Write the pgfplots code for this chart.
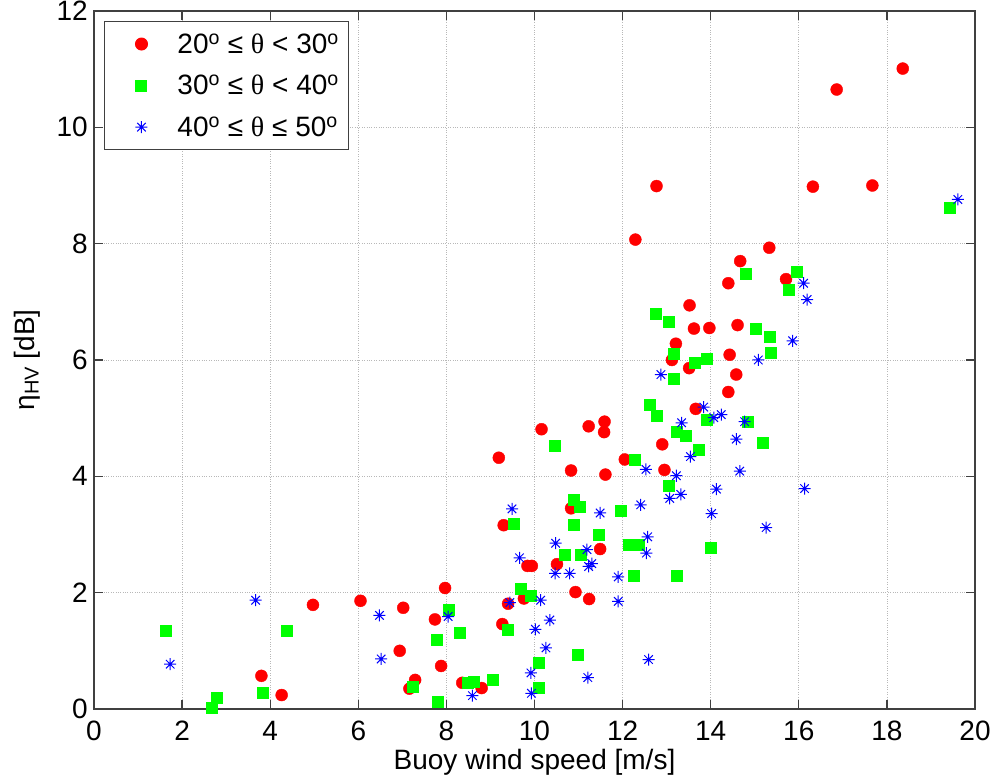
\documentclass[border=0pt]{standalone}
\usepackage{fontspec}
\setmainfont{Liberation Sans}
\newfontfamily\symfont{Liberation Serif}
\usepackage{pgfplots}
\pgfplotsset{compat=1.18}

% eight-spoke asterisk
\pgfdeclareplotmark{star8}{%
  \pgfpathmoveto{\pgfqpoint{-\pgfplotmarksize}{0pt}}%
  \pgfpathlineto{\pgfqpoint{\pgfplotmarksize}{0pt}}%
  \pgfpathmoveto{\pgfqpoint{0pt}{-\pgfplotmarksize}}%
  \pgfpathlineto{\pgfqpoint{0pt}{\pgfplotmarksize}}%
  \pgfpathmoveto{\pgfqpoint{-0.707\pgfplotmarksize}{-0.707\pgfplotmarksize}}%
  \pgfpathlineto{\pgfqpoint{0.707\pgfplotmarksize}{0.707\pgfplotmarksize}}%
  \pgfpathmoveto{\pgfqpoint{-0.707\pgfplotmarksize}{0.707\pgfplotmarksize}}%
  \pgfpathlineto{\pgfqpoint{0.707\pgfplotmarksize}{-0.707\pgfplotmarksize}}%
  \pgfusepathqstroke}

\definecolor{mred}{RGB}{255,0,0}
\definecolor{mgreen}{RGB}{0,255,0}
\definecolor{mblue}{RGB}{0,0,255}
\definecolor{frame}{RGB}{64,64,64}

% legend sample: one mark inside a wide, fixed-size slot
\pgfplotsset{markleg/.style={legend image code/.code={%
  \path[draw=none, fill=none] (0bp,-8bp) rectangle (63bp,8bp);
  \draw[##1] plot coordinates {(29bp,0bp)};}}}

\newcommand{\dg}{\textsuperscript{o}}
\newcommand{\leqs}{≤}
\newcommand{\thet}{{\symfont θ}}

\pgfplotstableread{
x y
3.80 0.57
4.26 0.24
4.97 1.79
6.05 1.86
6.94 1.00
7.02 1.74
7.16 0.35
7.29 0.50
7.74 1.54
7.88 0.74
7.97 2.08
8.36 0.45
8.80 0.36
9.19 4.32
9.27 1.46
9.30 3.16
9.40 1.81
9.76 1.90
9.84 2.46
9.94 2.46
10.16 4.81
10.51 2.49
10.83 4.10
10.83 3.45
10.93 2.01
11.23 4.86
11.24 1.89
11.49 2.75
11.58 4.76
11.59 4.94
11.61 4.03
12.05 4.29
12.29 8.07
12.77 8.99
12.90 4.55
12.95 4.11
13.12 6.00
13.21 6.28
13.51 5.86
13.52 6.94
13.62 6.54
13.66 5.16
13.97 6.55
14.40 7.32
14.40 5.45
14.43 6.09
14.58 5.75
14.61 6.60
14.67 7.70
15.33 7.93
15.71 7.39
16.32 8.98
16.86 10.65
17.67 9.00
18.36 11.01
}\lowinc

\pgfplotstableread{
x y
1.63 1.34
2.67 0.02
2.78 0.20
3.84 0.28
4.37 1.34
7.24 0.39
7.77 1.19
7.80 0.13
8.05 1.70
8.31 1.31
8.49 0.46
8.63 0.47
9.05 0.51
9.40 1.36
9.52 3.19
9.68 2.07
9.92 1.94
10.10 0.79
10.10 0.36
10.45 4.52
10.68 2.65
10.89 3.60
10.89 3.16
10.98 0.93
11.02 3.47
11.06 2.65
11.46 2.99
11.95 3.41
12.14 2.82
12.25 2.29
12.28 4.29
12.36 2.82
12.61 5.24
12.76 6.80
12.78 5.05
13.05 3.84
13.05 6.66
13.15 5.67
13.16 6.11
13.22 4.76
13.22 2.30
13.44 4.70
13.63 5.96
13.72 4.45
13.90 4.98
13.92 6.03
14.00 2.77
14.79 7.48
14.83 4.94
15.02 6.53
15.18 4.57
15.33 6.40
15.36 6.12
15.77 7.21
15.96 7.52
19.42 8.62
}\midinc

\pgfplotstableread{
x y
1.73 0.77
3.67 1.87
6.48 1.61
6.52 0.86
8.04 1.59
8.59 0.23
9.44 1.83
9.49 3.44
9.66 2.60
9.92 0.62
9.93 0.27
10.02 1.37
10.14 1.87
10.26 1.05
10.35 1.53
10.47 2.33
10.48 2.85
10.80 2.33
11.19 2.74
11.21 0.54
11.23 2.45
11.30 2.50
11.49 3.37
11.90 2.27
11.90 1.85
12.41 3.51
12.53 4.12
12.54 2.68
12.57 2.96
12.59 0.85
12.87 5.75
13.07 3.62
13.22 4.01
13.32 3.69
13.34 4.92
13.54 4.34
13.84 5.19
14.02 3.36
14.07 5.01
14.13 3.78
14.24 5.06
14.58 4.64
14.66 4.09
14.77 4.94
15.08 6.00
15.26 3.12
15.86 6.33
16.11 7.32
16.13 3.79
16.19 7.04
19.61 8.76
}\highinc

\begin{document}
\begin{tikzpicture}
\useasboundingbox (-94bp,-73bp) rectangle (903bp,709bp);
\begin{axis}[
  at={(0,0)}, anchor=south west,
  scale only axis, width=881bp, height=698bp,
  xmin=0, xmax=20, ymin=0, ymax=12,
  xtick={0,2,...,20}, ytick={0,2,...,12},
  /pgf/number format/assume math mode=true,
  font=\fontsize{28bp}{33bp}\selectfont,
  ticklabel style={font=\fontsize{28bp}{33bp}\selectfont},
  xticklabel style={anchor=base, yshift=-31bp},
  yticklabel style={anchor=east, inner xsep=0pt, xshift=-6bp},
  grid=major,
  major grid style={dotted, line width=0.8bp, color=black!28},
  axis line style={line width=1.2bp, color=frame},
  tick style={line width=1.2bp, color=frame},
  major tick length=9bp,
  tick align=inside,
  xlabel={Buoy wind speed [m/s]},
  xlabel style={at={(rel axis cs:0.5,0)}, anchor=base, yshift=-60bp},
  ylabel={η\raisebox{-0.3ex}{\fontsize{20bp}{20bp}\selectfont HV} [dB]},
  ylabel style={at={(rel axis cs:-0.076,0.5)}, anchor=center, rotate=0},
  legend cell align=left,
  legend style={at={(rel axis cs:0,1)}, anchor=north west, xshift=10bp, yshift=-10bp,
    draw=frame, line width=1bp, fill=white,
    font=\fontsize{28bp}{33bp}\selectfont,
    inner xsep=8bp, inner ysep=10bp, row sep=16.5bp,
    nodes={inner sep=2bp}},
]
\addplot[only marks, mark=*, mark size=6bp, color=mred, mark options={draw=mred, fill=mred}, markleg]
  table {\lowinc};
\addlegendentry{20\dg{} \leqs{} \thet{} < 30\dg}
\addplot[only marks, mark=square*, mark size=5.5bp, color=mgreen, mark options={draw=mgreen, fill=mgreen}, markleg]
  table {\midinc};
\addlegendentry{30\dg{} \leqs{} \thet{} < 40\dg}
\addplot[only marks, mark=star8, mark size=6bp, color=mblue, mark options={draw=mblue, line width=1bp}, markleg]
  table {\highinc};
\addlegendentry{40\dg{} \leqs{} \thet{} \leqs{} 50\dg}
\end{axis}
\end{tikzpicture}
\end{document}
